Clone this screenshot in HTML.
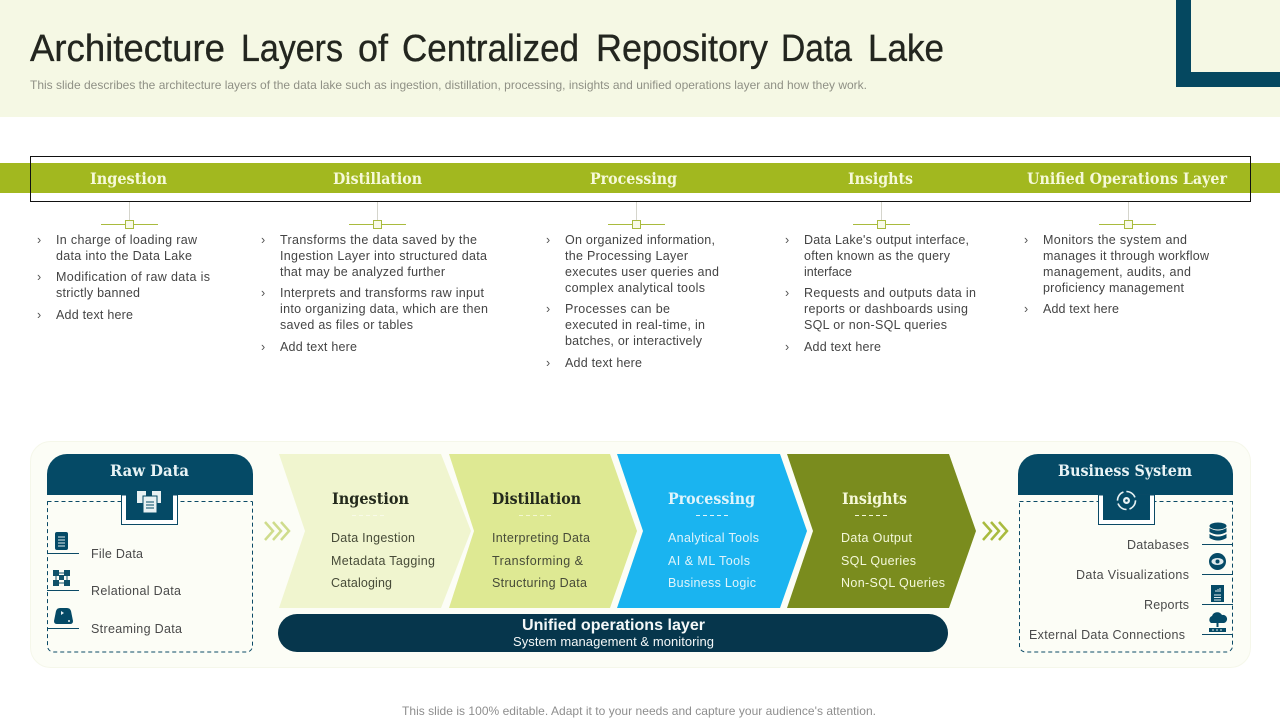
<!DOCTYPE html>
<html lang="en"><head><meta charset="utf-8"><title>Architecture Layers of Centralized Repository Data Lake</title>
<style>
html,body{margin:0;padding:0;background:#fff;width:1280px;height:720px;overflow:hidden}
svg{display:block}
text{font-family:"Liberation Sans",Arial,sans-serif;white-space:pre}
.t{font-size:38px;fill:#23261f;stroke:#23261f;stroke-width:.35px}
.b{font-size:12.5px;fill:#444}
.k{font-size:12.5px;fill:#555}
.h{font-family:"DejaVu Serif",serif;font-weight:bold;font-size:16px;fill:#f6f9d9}
.c{font-family:"DejaVu Serif",serif;font-weight:bold;font-size:16px;fill:#23291c}
.d{font-size:12.5px;fill:#474b38}
.w{font-size:12.5px;fill:#dff4fb}
.v{font-size:12.5px;fill:#f4f8da}
.l{font-size:12.5px;fill:#4a4a4a}
.n{font-family:"DejaVu Serif",serif;font-weight:bold;font-size:16px;fill:#e8f3f5}
</style></head><body>
<svg width="1280" height="720" viewBox="0 0 1280 720" xmlns="http://www.w3.org/2000/svg">
<rect width="1280" height="720" fill="#fff"/>
<rect width="1280" height="117" fill="#f5f8e4"/>
<path d="M1176 0h15v72h89v15h-104z" fill="#054860"/>
<text class="t" y="61" x="30" textLength="195" lengthAdjust="spacingAndGlyphs">Architecture</text>
<text class="t" y="61" x="241" textLength="102" lengthAdjust="spacingAndGlyphs">Layers</text>
<text class="t" y="61" x="358" textLength="30" lengthAdjust="spacingAndGlyphs">of</text>
<text class="t" y="61" x="402" textLength="177" lengthAdjust="spacingAndGlyphs">Centralized</text>
<text class="t" y="61" x="596" textLength="172" lengthAdjust="spacingAndGlyphs">Repository</text>
<text class="t" y="61" x="781" textLength="71" lengthAdjust="spacingAndGlyphs">Data</text>
<text class="t" y="61" x="868" textLength="76" lengthAdjust="spacingAndGlyphs">Lake</text>
<text x="30" y="89" font-size="12" fill="#8f9085" textLength="837" lengthAdjust="spacing">This slide describes the architecture layers of the data lake such as ingestion, distillation, processing, insights and unified operations layer and how they work.</text>

<rect x="0" y="163" width="1280" height="30" fill="#a2b81f"/>
<rect x="30.5" y="156.5" width="1220" height="45" fill="none" stroke="#111" stroke-width="1"/>
<text class="h" x="90" y="184" textLength="77" lengthAdjust="spacingAndGlyphs">Ingestion</text>
<text class="h" x="333" y="184" textLength="89" lengthAdjust="spacingAndGlyphs">Distillation</text>
<text class="h" x="590" y="184" textLength="87" lengthAdjust="spacingAndGlyphs">Processing</text>
<text class="h" x="848" y="184" textLength="65" lengthAdjust="spacingAndGlyphs">Insights</text>
<text class="h" x="1027" y="184" textLength="200" lengthAdjust="spacingAndGlyphs">Unified Operations Layer</text>

<g stroke="#d5d5cc" stroke-width="1"><path d="M129.5 202v18M377.5 202v18M636.5 202v18M881.5 202v18M1128.5 202v18"/></g>
<g stroke="#a9bb3e" stroke-width="1" fill="#f8fae8">
<path d="M101 224.500h57M349 224.500h57M608 224.500h57M853 224.500h57M1099 224.500h57"/>
<rect x="125.500" y="220.500" width="8" height="8"/><rect x="373.500" y="220.500" width="8" height="8"/><rect x="632.500" y="220.500" width="8" height="8"/><rect x="877.500" y="220.500" width="8" height="8"/><rect x="1124.500" y="220.500" width="8" height="8"/>
</g>

<text class="k" x="37" y="244">›</text><text class="k" x="37" y="281">›</text><text class="k" x="37" y="319">›</text>
<text class="b" x="56" y="244" textLength="141">In charge of loading raw</text>
<text class="b" x="56" y="260" textLength="136">data into the Data Lake</text>
<text class="b" x="56" y="281" textLength="154">Modification of raw data is</text>
<text class="b" x="56" y="297" textLength="84">strictly banned</text>
<text class="b" x="56" y="319" textLength="77">Add text here</text>

<text class="k" x="261" y="244">›</text><text class="k" x="261" y="297">›</text><text class="k" x="261" y="351">›</text>
<text class="b" x="280" y="244" textLength="197">Transforms the data saved by the</text>
<text class="b" x="280" y="260" textLength="207">Ingestion Layer into structured data</text>
<text class="b" x="280" y="276" textLength="165">that may be analyzed further</text>
<text class="b" x="280" y="297" textLength="204">Interprets and transforms raw input</text>
<text class="b" x="280" y="313" textLength="208">into organizing data, which are then</text>
<text class="b" x="280" y="329" textLength="133">saved as files or tables</text>
<text class="b" x="280" y="351" textLength="77">Add text here</text>

<text class="k" x="546" y="244">›</text><text class="k" x="546" y="313">›</text><text class="k" x="546" y="367">›</text>
<text class="b" x="565" y="244" textLength="150">On organized information,</text>
<text class="b" x="565" y="260" textLength="123">the Processing Layer</text>
<text class="b" x="565" y="276" textLength="154">executes user queries and</text>
<text class="b" x="565" y="292" textLength="140">complex analytical tools</text>
<text class="b" x="565" y="313" textLength="105">Processes can be</text>
<text class="b" x="565" y="329" textLength="140">executed in real-time, in</text>
<text class="b" x="565" y="345" textLength="137">batches, or interactively</text>
<text class="b" x="565" y="367" textLength="77">Add text here</text>

<text class="k" x="785" y="244">›</text><text class="k" x="785" y="297">›</text><text class="k" x="785" y="351">›</text>
<text class="b" x="804" y="244" textLength="165">Data Lake's output interface,</text>
<text class="b" x="804" y="260" textLength="146">often known as the query</text>
<text class="b" x="804" y="276" textLength="48">interface</text>
<text class="b" x="804" y="297" textLength="172">Requests and outputs data in</text>
<text class="b" x="804" y="313" textLength="164">reports or dashboards using</text>
<text class="b" x="804" y="329" textLength="143">SQL or non-SQL queries</text>
<text class="b" x="804" y="351" textLength="77">Add text here</text>

<text class="k" x="1024" y="244">›</text><text class="k" x="1024" y="313">›</text>
<text class="b" x="1043" y="244" textLength="144">Monitors the system and</text>
<text class="b" x="1043" y="260" textLength="166">manages it through workflow</text>
<text class="b" x="1043" y="276" textLength="148">management, audits, and</text>
<text class="b" x="1043" y="292" textLength="141">proficiency management</text>
<text class="b" x="1043" y="313" textLength="76">Add text here</text>

<rect x="30.500" y="441.500" width="1220" height="226" rx="20" fill="#fcfdf6" stroke="#f5f7ea"/>

<!-- Raw data -->
<rect x="47.500" y="495" width="205" height="157" rx="6" fill="none" stroke="#0b4a66" stroke-width="1" stroke-dasharray="4 3"/>
<path d="M47 495v-21a20 20 0 0 1 20-20h166a20 20 0 0 1 20 20v21z" fill="#054a66"/>
<rect x="47" y="495" width="206" height="6" fill="#fcfdf6"/>
<path d="M47.500 501.500h205" stroke="#0b4a66" stroke-dasharray="4 3"/>
<rect x="121.500" y="495" width="56" height="29.500" fill="#fff" stroke="#0b4a66"/>
<rect x="126" y="495" width="47" height="25" fill="#054a66"/>
<text class="n" x="110" y="476" textLength="79" lengthAdjust="spacingAndGlyphs">Raw Data</text>
<g fill="#e8f1f3"><rect x="137" y="491" width="9" height="12"/><rect x="152" y="491" width="9" height="12"/><rect x="143" y="496" width="14" height="17" stroke="#054a66"/></g>
<path d="M146 502h8M146 505h8M146 508h8" stroke="#054a66"/>
<g stroke="#0b4a66" stroke-width="1"><path d="M47 553.500h32M47 590.500h32M47 628.500h32"/></g>
<rect x="55" y="532" width="13" height="18" rx="2" fill="#054a66"/><path d="M58 537h7M58 540h7M58 543h7M58 546h7" stroke="#dfe9ec"/>
<g fill="#0f5169"><rect x="53" y="570" width="6" height="6"/><rect x="64" y="570" width="6" height="6"/><rect x="53" y="580" width="6" height="6"/><rect x="64" y="580" width="6" height="6"/><rect x="59" y="575" width="5" height="5"/></g>
<path d="M56 576v4M67 576v4M59 583h5M59 573h5" stroke="#0f5169"/>
<path d="M56 611q1-3 4-3h7q3 0 4 3l2 10q0 3-3 3h-13q-3 0-3-3z" fill="#054a66"/>
<path d="M61 611l3 2-3 2z" fill="#e8f1f3"/><circle cx="69" cy="621" r="1" fill="#e8f1f3"/>
<text class="l" x="91" y="558" textLength="52">File Data</text>
<text class="l" x="91" y="595" textLength="90">Relational Data</text>
<text class="l" x="91" y="633" textLength="91">Streaming Data</text>

<!-- Arrows -->
<g fill="none" stroke="#cfdc8c" stroke-width="2.500"><path d="M265 522l8 9-8 9M273 522l8 9-8 9M281 522l8 9-8 9"/></g>
<g fill="none" stroke="#a9bb3e" stroke-width="2.500"><path d="M983 522l8 9-8 9M991 522l8 9-8 9M999 522l8 9-8 9"/></g>

<!-- Chevrons -->
<polygon points="279,454 441,454 471,531 441,608 279,608 305,531" fill="#f0f5cf"/>
<polygon points="449,454 610,454 637,531 610,608 449,608 474,531" fill="#dee993"/>
<polygon points="617,454 780,454 807,531 780,608 617,608 643,531" fill="#1ab4f0"/>
<polygon points="787,454 949,454 976,531 949,608 787,608 813,531" fill="#7a8c1e"/>

<text class="c" x="332" y="504" textLength="77" lengthAdjust="spacingAndGlyphs">Ingestion</text>
<text class="c" x="492" y="504" textLength="89" lengthAdjust="spacingAndGlyphs">Distillation</text>
<text class="h" x="668" y="504" textLength="87" lengthAdjust="spacingAndGlyphs" style="fill:#dff4fb">Processing</text>
<text class="h" x="842" y="504" textLength="65" lengthAdjust="spacingAndGlyphs">Insights</text>
<path d="M352 515.500h33" stroke="#f8fae8" stroke-dasharray="4 3"/>
<path d="M519 515.500h33" stroke="#f3f7d0" stroke-dasharray="4 3"/>
<path d="M696 515.500h33" stroke="#dff4fb" stroke-dasharray="4 3"/>
<path d="M855 515.500h33" stroke="#f4f8da" stroke-dasharray="4 3"/>
<text class="d" x="331" y="542" textLength="84">Data Ingestion</text>
<text class="d" x="331" y="565" textLength="104">Metadata Tagging</text>
<text class="d" x="331" y="587" textLength="61">Cataloging</text>
<text class="d" x="492" y="542" textLength="98">Interpreting Data</text>
<text class="d" x="492" y="565" textLength="91">Transforming &amp;</text>
<text class="d" x="492" y="587" textLength="95">Structuring Data</text>
<text class="w" x="668" y="542" textLength="91">Analytical Tools</text>
<text class="w" x="668" y="565" textLength="82">AI &amp; ML Tools</text>
<text class="w" x="668" y="587" textLength="88">Business Logic</text>
<text class="v" x="841" y="542" textLength="71">Data Output</text>
<text class="v" x="841" y="565" textLength="75">SQL Queries</text>
<text class="v" x="841" y="587" textLength="104">Non-SQL Queries</text>

<rect x="278" y="614" width="670" height="38" rx="19" fill="#06364c"/>
<text x="522" y="630" font-size="16" font-weight="bold" fill="#f4f8f8" textLength="183" lengthAdjust="spacingAndGlyphs">Unified operations layer</text>
<text x="513" y="646" font-size="13" fill="#f4f8f8" textLength="201">System management &amp; monitoring</text>

<!-- Business -->
<rect x="1019.500" y="495" width="213" height="157" rx="6" fill="none" stroke="#0b4a66" stroke-width="1" stroke-dasharray="4 3"/>
<path d="M1018 495v-21a20 20 0 0 1 20-20h175a20 20 0 0 1 20 20v21z" fill="#054a66"/>
<rect x="1018" y="495" width="216" height="6" fill="#fcfdf6"/>
<path d="M1019.500 501.500h213" stroke="#0b4a66" stroke-dasharray="4 3"/>
<rect x="1098.500" y="495" width="56" height="29.500" fill="#fff" stroke="#0b4a66"/>
<rect x="1103" y="495" width="47" height="25" fill="#054a66"/>
<text class="n" x="1058" y="476" textLength="134" lengthAdjust="spacingAndGlyphs">Business System</text>
<circle cx="1126.500" cy="500.500" r="9" fill="none" stroke="#e8f1f3" stroke-width="1.600" stroke-dasharray="11 3"/>
<circle cx="1126.500" cy="500.500" r="3.500" fill="#e8f1f3"/><circle cx="1126.500" cy="500.500" r="1.300" fill="#054a66"/>
<g stroke="#0b4a66"><path d="M1202 544.500h31M1202 574.500h31M1202 604.500h31M1202 634.500h31"/></g>
<g fill="#054a66"><ellipse cx="1218" cy="526" rx="8.500" ry="3.500"/><path d="M1209.500 528q8.500 5 17 0v4q-8.500 5-17 0z"/><path d="M1209.500 534q8.500 5 17 0v4q-8.500 5-17 0z"/></g>
<circle cx="1217.500" cy="561.500" r="8.500" fill="#054a66"/><ellipse cx="1217.500" cy="561.500" rx="6" ry="3.500" fill="#dfe9ec"/><circle cx="1217.500" cy="561.500" r="2" fill="#054a66"/>
<rect x="1211" y="585" width="13" height="17" fill="#054a66"/><path d="M1214 595h7M1214 597.500h7M1214 600h7M1216 590v2M1218 589v3M1220 588v4" stroke="#dfe9ec"/>
<path d="M1211 623a4 4 0 0 1 1-7 5.500 5.500 0 0 1 10-1 4 4 0 0 1 2 8z" fill="#054a66"/><path d="M1217.500 618v9" stroke="#054a66" stroke-width="2"/><rect x="1209" y="628" width="17" height="4" fill="#054a66"/><path d="M1212 630h2M1216 630h2M1220 630h2" stroke="#dfe9ec"/>
<text class="l" x="1127" y="549" textLength="62">Databases</text>
<text class="l" x="1076" y="579" textLength="113">Data Visualizations</text>
<text class="l" x="1144" y="609" textLength="45">Reports</text>
<text class="l" x="1029" y="639" textLength="156">External Data Connections</text>

<text x="402" y="715" font-size="12" fill="#8e8e8e" textLength="474">This slide is 100% editable. Adapt it to your needs and capture your audience's attention.</text>
</svg>
</body></html>
